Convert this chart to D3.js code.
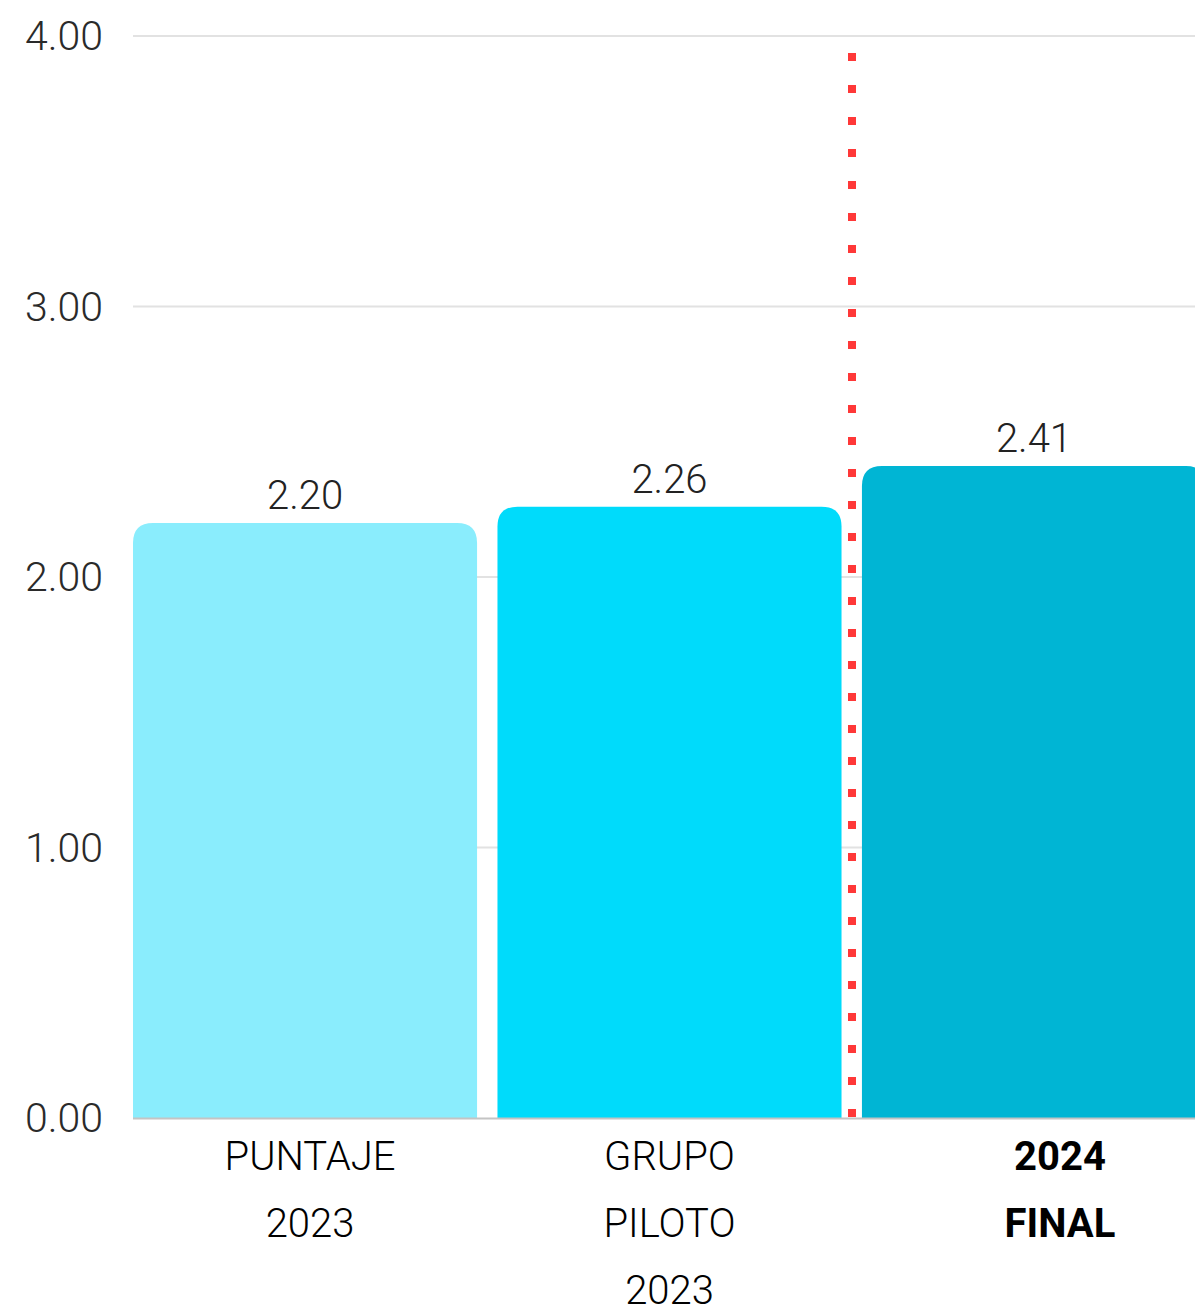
<!DOCTYPE html>
<html><head><meta charset="utf-8">
<script src="https://cdn.jsdelivr.net/npm/d3@7"></script>
<style>
html,body{margin:0;padding:0;background:#fff;overflow:hidden;}
svg{display:block;}
</style></head>
<body>
<svg id="chart" width="1195" height="1314"></svg>
<script>
const categories = ["PUNTAJE 2023", "GRUPO PILOTO 2023", "2024 FINAL"];
const labelLines = [["PUNTAJE", "2023"], ["GRUPO", "PILOTO", "2023"], ["2024", "FINAL"]];
const values = [2.20, 2.26, 2.41];
const valueLabels = ["2.20", "2.26", "2.41"];
const yTicks = [0, 1, 2, 3, 4];
const yTickLabels = ["0.00", "1.00", "2.00", "3.00", "4.00"];
const boldCategory = [false, false, true];
const barColors = ["#8aedfd", "#00dbfb", "#00b5d4"];

const svg = d3.select("#chart");
const font = "Roboto, 'DejaVu Sans', sans-serif";

const y = d3.scaleLinear().domain([0, 4]).range([1118, 36]);
const x = d3.scaleBand().domain(categories).range([133, 1206]).paddingInner(0.056).paddingOuter(0);
const labelDx = [5, 0, 26];

// gridlines
svg.append("g").selectAll("line").data(yTicks.filter(d => d > 0)).join("line")
  .attr("x1", 133).attr("x2", 1195)
  .attr("y1", d => y(d)).attr("y2", d => y(d))
  .attr("stroke", "#e2e2e2").attr("stroke-width", 2);

// y tick labels
svg.append("g").selectAll("text").data(yTicks).join("text")
  .attr("x", 103).attr("y", d => y(d))
  .attr("text-anchor", "end").attr("dominant-baseline", "central")
  .attr("font-family", font).attr("font-size", 41).attr("font-weight", 300)
  .attr("fill", "#2a2a2a")
  .text((d, i) => yTickLabels[i]);

// bars with rounded top corners
const r = 20;
function barPath(x0, w, top, bottom) {
  return `M${x0},${bottom} L${x0},${top + r} Q${x0},${top} ${x0 + r},${top} L${x0 + w - r},${top} Q${x0 + w},${top} ${x0 + w},${top + r} L${x0 + w},${bottom} Z`;
}
svg.append("g").selectAll("path").data(categories).join("path")
  .attr("d", (d, i) => barPath(x(d), x.bandwidth(), y(values[i]), y(0)))
  .attr("fill", (d, i) => barColors[i]);

// baseline
svg.append("line").attr("x1", 133).attr("x2", 1195).attr("y1", y(0) + 0.5).attr("y2", y(0) + 0.5)
  .attr("stroke", "#c4c4c4").attr("stroke-width", 2);

// value labels
svg.append("g").selectAll("text").data(categories).join("text")
  .attr("x", d => x(d) + x.bandwidth() / 2)
  .attr("y", (d, i) => y(values[i]) - 14)
  .attr("text-anchor", "middle")
  .attr("font-family", font).attr("font-size", 40).attr("font-weight", 300)
  .attr("fill", "#222")
  .text((d, i) => valueLabels[i]);

// dotted separator
svg.append("line")
  .attr("x1", 852).attr("x2", 852).attr("y1", 53).attr("y2", y(0))
  .attr("stroke", "#ff3838").attr("stroke-width", 8).attr("stroke-dasharray", "8,24");

// category labels
const catG = svg.append("g");
categories.forEach((c, i) => {
  const t = catG.append("text")
    .attr("x", x(c) + x.bandwidth() / 2 + labelDx[i])
    .attr("text-anchor", "middle")
    .attr("font-family", font).attr("font-size", 40)
    .attr("font-weight", boldCategory[i] ? 700 : 300)
    .attr("fill", "#000");
  labelLines[i].forEach((ln, j) => {
    t.append("tspan").attr("x", x(c) + x.bandwidth() / 2 + labelDx[i])
      .attr("y", 1170 + j * 67).text(ln);
  });
});
</script>
</body></html>
